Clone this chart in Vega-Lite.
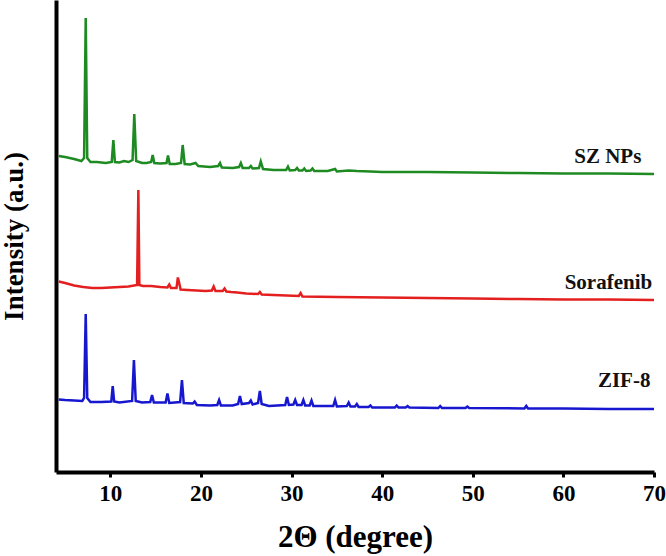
{
  "$schema": "https://vega.github.io/schema/vega-lite/v6.json",
  "width": 598,
  "height": 472,
  "autosize": {"type": "none"},
  "padding": {"left": 56, "top": 0, "right": 12, "bottom": 84},
  "background": "white",
  "config": {
    "view": {"stroke": null},
    "axis": {"grid": false}
  },
  "datasets": {
    "xrd": [
      {"s": "SZ NPs", "t": 4.3, "i": 316}, {"s": "SZ NPs", "t": 5.0, "i": 315}, {"s": "SZ NPs", "t": 6.0, "i": 313},
      {"s": "SZ NPs", "t": 6.8, "i": 311}, {"s": "SZ NPs", "t": 7.1, "i": 314}, {"s": "SZ NPs", "t": 7.28, "i": 454},
      {"s": "SZ NPs", "t": 7.45, "i": 314}, {"s": "SZ NPs", "t": 7.8, "i": 310}, {"s": "SZ NPs", "t": 8.5, "i": 310},
      {"s": "SZ NPs", "t": 9.5, "i": 309}, {"s": "SZ NPs", "t": 10.15, "i": 310}, {"s": "SZ NPs", "t": 10.33, "i": 332},
      {"s": "SZ NPs", "t": 10.5, "i": 310}, {"s": "SZ NPs", "t": 11.0, "i": 309.5}, {"s": "SZ NPs", "t": 11.5, "i": 311},
      {"s": "SZ NPs", "t": 12.0, "i": 310}, {"s": "SZ NPs", "t": 12.45, "i": 312}, {"s": "SZ NPs", "t": 12.64, "i": 358},
      {"s": "SZ NPs", "t": 12.85, "i": 311}, {"s": "SZ NPs", "t": 13.5, "i": 309}, {"s": "SZ NPs", "t": 14.0, "i": 309},
      {"s": "SZ NPs", "t": 14.5, "i": 310}, {"s": "SZ NPs", "t": 14.67, "i": 317}, {"s": "SZ NPs", "t": 14.85, "i": 309},
      {"s": "SZ NPs", "t": 15.5, "i": 308.5}, {"s": "SZ NPs", "t": 16.2, "i": 309}, {"s": "SZ NPs", "t": 16.36, "i": 316.5},
      {"s": "SZ NPs", "t": 16.55, "i": 308}, {"s": "SZ NPs", "t": 17.2, "i": 308}, {"s": "SZ NPs", "t": 17.8, "i": 309},
      {"s": "SZ NPs", "t": 17.98, "i": 327}, {"s": "SZ NPs", "t": 18.2, "i": 308}, {"s": "SZ NPs", "t": 18.8, "i": 307.5},
      {"s": "SZ NPs", "t": 19.4, "i": 309}, {"s": "SZ NPs", "t": 19.7, "i": 306}, {"s": "SZ NPs", "t": 21.0, "i": 305},
      {"s": "SZ NPs", "t": 21.9, "i": 306}, {"s": "SZ NPs", "t": 22.1, "i": 309}, {"s": "SZ NPs", "t": 22.3, "i": 304.5},
      {"s": "SZ NPs", "t": 23.5, "i": 304}, {"s": "SZ NPs", "t": 24.2, "i": 305}, {"s": "SZ NPs", "t": 24.4, "i": 309},
      {"s": "SZ NPs", "t": 24.6, "i": 304}, {"s": "SZ NPs", "t": 25.3, "i": 304}, {"s": "SZ NPs", "t": 25.5, "i": 306},
      {"s": "SZ NPs", "t": 25.7, "i": 303.5}, {"s": "SZ NPs", "t": 26.4, "i": 304}, {"s": "SZ NPs", "t": 26.6, "i": 310.5},
      {"s": "SZ NPs", "t": 26.85, "i": 303}, {"s": "SZ NPs", "t": 28.0, "i": 302}, {"s": "SZ NPs", "t": 29.4, "i": 302},
      {"s": "SZ NPs", "t": 29.6, "i": 305.5}, {"s": "SZ NPs", "t": 29.8, "i": 301.5}, {"s": "SZ NPs", "t": 30.4, "i": 302},
      {"s": "SZ NPs", "t": 30.6, "i": 304}, {"s": "SZ NPs", "t": 30.8, "i": 301.5}, {"s": "SZ NPs", "t": 31.2, "i": 301.5},
      {"s": "SZ NPs", "t": 31.4, "i": 303.5}, {"s": "SZ NPs", "t": 31.6, "i": 301}, {"s": "SZ NPs", "t": 32.1, "i": 301.5},
      {"s": "SZ NPs", "t": 32.3, "i": 303.5}, {"s": "SZ NPs", "t": 32.5, "i": 301}, {"s": "SZ NPs", "t": 34.0, "i": 301},
      {"s": "SZ NPs", "t": 34.8, "i": 303}, {"s": "SZ NPs", "t": 35.0, "i": 300.5}, {"s": "SZ NPs", "t": 36.3, "i": 301.5},
      {"s": "SZ NPs", "t": 37.2, "i": 301}, {"s": "SZ NPs", "t": 38.7, "i": 300.5}, {"s": "SZ NPs", "t": 40.0, "i": 300},
      {"s": "SZ NPs", "t": 45.0, "i": 300}, {"s": "SZ NPs", "t": 50.0, "i": 299.5}, {"s": "SZ NPs", "t": 55.0, "i": 299},
      {"s": "SZ NPs", "t": 60.0, "i": 298.5}, {"s": "SZ NPs", "t": 65.0, "i": 298.5}, {"s": "SZ NPs", "t": 70.0, "i": 298},

      {"s": "Sorafenib", "t": 4.3, "i": 190.5}, {"s": "Sorafenib", "t": 5.0, "i": 189}, {"s": "Sorafenib", "t": 6.0, "i": 186.5},
      {"s": "Sorafenib", "t": 7.0, "i": 185}, {"s": "Sorafenib", "t": 8.0, "i": 184}, {"s": "Sorafenib", "t": 9.0, "i": 184},
      {"s": "Sorafenib", "t": 10.0, "i": 184.5}, {"s": "Sorafenib", "t": 11.0, "i": 185}, {"s": "Sorafenib", "t": 12.0, "i": 185.5},
      {"s": "Sorafenib", "t": 12.95, "i": 187}, {"s": "Sorafenib", "t": 13.09, "i": 282}, {"s": "Sorafenib", "t": 13.2, "i": 187},
      {"s": "Sorafenib", "t": 13.6, "i": 186}, {"s": "Sorafenib", "t": 14.5, "i": 186}, {"s": "Sorafenib", "t": 15.5, "i": 185},
      {"s": "Sorafenib", "t": 16.3, "i": 184.5}, {"s": "Sorafenib", "t": 16.5, "i": 187.5}, {"s": "Sorafenib", "t": 16.7, "i": 184},
      {"s": "Sorafenib", "t": 17.3, "i": 184}, {"s": "Sorafenib", "t": 17.45, "i": 194.5}, {"s": "Sorafenib", "t": 17.6, "i": 189},
      {"s": "Sorafenib", "t": 17.75, "i": 182.5}, {"s": "Sorafenib", "t": 18.5, "i": 182}, {"s": "Sorafenib", "t": 19.5, "i": 181.5},
      {"s": "Sorafenib", "t": 20.5, "i": 181}, {"s": "Sorafenib", "t": 21.2, "i": 181.5}, {"s": "Sorafenib", "t": 21.4, "i": 185.5},
      {"s": "Sorafenib", "t": 21.6, "i": 181}, {"s": "Sorafenib", "t": 22.4, "i": 181}, {"s": "Sorafenib", "t": 22.6, "i": 183.5},
      {"s": "Sorafenib", "t": 22.8, "i": 180.5}, {"s": "Sorafenib", "t": 23.3, "i": 180}, {"s": "Sorafenib", "t": 24.0, "i": 179.5},
      {"s": "Sorafenib", "t": 25.0, "i": 178.5}, {"s": "Sorafenib", "t": 26.3, "i": 178}, {"s": "Sorafenib", "t": 26.5, "i": 180},
      {"s": "Sorafenib", "t": 26.7, "i": 177.5}, {"s": "Sorafenib", "t": 28.0, "i": 177}, {"s": "Sorafenib", "t": 30.8, "i": 176},
      {"s": "Sorafenib", "t": 31.0, "i": 179}, {"s": "Sorafenib", "t": 31.2, "i": 175.5}, {"s": "Sorafenib", "t": 35.0, "i": 175},
      {"s": "Sorafenib", "t": 40.0, "i": 174.5}, {"s": "Sorafenib", "t": 45.0, "i": 174}, {"s": "Sorafenib", "t": 50.0, "i": 173.5},
      {"s": "Sorafenib", "t": 55.0, "i": 173}, {"s": "Sorafenib", "t": 60.0, "i": 172.5}, {"s": "Sorafenib", "t": 65.0, "i": 172.5},
      {"s": "Sorafenib", "t": 70.0, "i": 172},

      {"s": "ZIF-8", "t": 4.3, "i": 72.5}, {"s": "ZIF-8", "t": 5.0, "i": 72}, {"s": "ZIF-8", "t": 6.0, "i": 71.5},
      {"s": "ZIF-8", "t": 6.9, "i": 71}, {"s": "ZIF-8", "t": 7.1, "i": 74}, {"s": "ZIF-8", "t": 7.28, "i": 158},
      {"s": "ZIF-8", "t": 7.45, "i": 74}, {"s": "ZIF-8", "t": 7.8, "i": 70}, {"s": "ZIF-8", "t": 9.0, "i": 70},
      {"s": "ZIF-8", "t": 10.1, "i": 70.5}, {"s": "ZIF-8", "t": 10.26, "i": 86}, {"s": "ZIF-8", "t": 10.42, "i": 70.5},
      {"s": "ZIF-8", "t": 11.0, "i": 69.5}, {"s": "ZIF-8", "t": 12.4, "i": 71}, {"s": "ZIF-8", "t": 12.6, "i": 112},
      {"s": "ZIF-8", "t": 12.8, "i": 71}, {"s": "ZIF-8", "t": 13.5, "i": 69.5}, {"s": "ZIF-8", "t": 14.4, "i": 70},
      {"s": "ZIF-8", "t": 14.6, "i": 77}, {"s": "ZIF-8", "t": 14.8, "i": 69.5}, {"s": "ZIF-8", "t": 16.1, "i": 69.5},
      {"s": "ZIF-8", "t": 16.3, "i": 78.5}, {"s": "ZIF-8", "t": 16.5, "i": 69}, {"s": "ZIF-8", "t": 17.7, "i": 70},
      {"s": "ZIF-8", "t": 17.9, "i": 92}, {"s": "ZIF-8", "t": 18.1, "i": 69}, {"s": "ZIF-8", "t": 19.1, "i": 68.5},
      {"s": "ZIF-8", "t": 19.3, "i": 70.5}, {"s": "ZIF-8", "t": 19.55, "i": 67}, {"s": "ZIF-8", "t": 21.0, "i": 66.5},
      {"s": "ZIF-8", "t": 21.8, "i": 67}, {"s": "ZIF-8", "t": 22.0, "i": 72}, {"s": "ZIF-8", "t": 22.2, "i": 66.5},
      {"s": "ZIF-8", "t": 23.5, "i": 66.5}, {"s": "ZIF-8", "t": 24.1, "i": 68}, {"s": "ZIF-8", "t": 24.3, "i": 76},
      {"s": "ZIF-8", "t": 24.5, "i": 68}, {"s": "ZIF-8", "t": 25.3, "i": 69}, {"s": "ZIF-8", "t": 25.5, "i": 71.5},
      {"s": "ZIF-8", "t": 25.7, "i": 67.5}, {"s": "ZIF-8", "t": 26.3, "i": 69}, {"s": "ZIF-8", "t": 26.5, "i": 81},
      {"s": "ZIF-8", "t": 26.7, "i": 68}, {"s": "ZIF-8", "t": 27.5, "i": 66}, {"s": "ZIF-8", "t": 29.3, "i": 67},
      {"s": "ZIF-8", "t": 29.5, "i": 75}, {"s": "ZIF-8", "t": 29.7, "i": 67}, {"s": "ZIF-8", "t": 30.2, "i": 67.5},
      {"s": "ZIF-8", "t": 30.4, "i": 72}, {"s": "ZIF-8", "t": 30.6, "i": 67}, {"s": "ZIF-8", "t": 31.1, "i": 67},
      {"s": "ZIF-8", "t": 31.3, "i": 72}, {"s": "ZIF-8", "t": 31.5, "i": 66.5}, {"s": "ZIF-8", "t": 32.0, "i": 66.5},
      {"s": "ZIF-8", "t": 32.2, "i": 71.5}, {"s": "ZIF-8", "t": 32.4, "i": 66}, {"s": "ZIF-8", "t": 34.6, "i": 66},
      {"s": "ZIF-8", "t": 34.8, "i": 72}, {"s": "ZIF-8", "t": 35.0, "i": 65.5}, {"s": "ZIF-8", "t": 36.1, "i": 66},
      {"s": "ZIF-8", "t": 36.3, "i": 69.5}, {"s": "ZIF-8", "t": 36.5, "i": 65.5}, {"s": "ZIF-8", "t": 37.0, "i": 65.5},
      {"s": "ZIF-8", "t": 37.2, "i": 68}, {"s": "ZIF-8", "t": 37.4, "i": 65}, {"s": "ZIF-8", "t": 38.5, "i": 65},
      {"s": "ZIF-8", "t": 38.7, "i": 66.5}, {"s": "ZIF-8", "t": 38.9, "i": 64.5}, {"s": "ZIF-8", "t": 41.4, "i": 64.5},
      {"s": "ZIF-8", "t": 41.6, "i": 66.5}, {"s": "ZIF-8", "t": 41.8, "i": 64.5}, {"s": "ZIF-8", "t": 42.6, "i": 64.5},
      {"s": "ZIF-8", "t": 42.8, "i": 66}, {"s": "ZIF-8", "t": 43.0, "i": 64.5}, {"s": "ZIF-8", "t": 46.2, "i": 64},
      {"s": "ZIF-8", "t": 46.4, "i": 66}, {"s": "ZIF-8", "t": 46.6, "i": 64}, {"s": "ZIF-8", "t": 49.2, "i": 64},
      {"s": "ZIF-8", "t": 49.4, "i": 65.5}, {"s": "ZIF-8", "t": 49.6, "i": 64}, {"s": "ZIF-8", "t": 55.7, "i": 63.5},
      {"s": "ZIF-8", "t": 55.9, "i": 66}, {"s": "ZIF-8", "t": 56.1, "i": 63.5}, {"s": "ZIF-8", "t": 60.0, "i": 63.5},
      {"s": "ZIF-8", "t": 65.0, "i": 63}, {"s": "ZIF-8", "t": 70.0, "i": 63}
    ],
    "labels": [
      {"s": "SZ NPs", "t": 68.6, "i": 315},
      {"s": "Sorafenib", "t": 69.8, "i": 189},
      {"s": "ZIF-8", "t": 69.6, "i": 91}
    ]
  },
  "encoding": {
    "x": {
      "field": "t",
      "type": "quantitative",
      "scale": {"domain": [4, 70], "nice": false, "zero": false},
      "axis": {
        "title": "2Θ (degree)",
        "values": [10, 20, 30, 40, 50, 60, 70],
        "labelFlush": false,
        "domainColor": "black",
        "domainWidth": 4,
        "tickColor": "black",
        "tickWidth": 3,
        "tickSize": 5,
        "labelFont": "Liberation Serif",
        "labelFontWeight": "bold",
        "labelFontSize": 23,
        "labelColor": "black",
        "labelPadding": 5,
        "titleFont": "Liberation Serif",
        "titleFontWeight": "bold",
        "titleFontSize": 31,
        "titleColor": "black",
        "titlePadding": 17
      }
    },
    "y": {
      "field": "i",
      "type": "quantitative",
      "scale": {"domain": [0, 472], "nice": false},
      "axis": {
        "title": "Intensity (a.u.)",
        "ticks": false,
        "labels": false,
        "domainColor": "black",
        "domainWidth": 4,
        "titleFont": "Liberation Serif",
        "titleFontWeight": "bold",
        "titleFontSize": 27,
        "titleColor": "black",
        "titlePadding": 28
      }
    },
    "color": {
      "field": "s",
      "type": "nominal",
      "scale": {"domain": ["SZ NPs", "Sorafenib", "ZIF-8"], "range": ["#1e8a22", "#e3201f", "#1717cf"]},
      "legend": null
    }
  },
  "layer": [
    {
      "data": {"name": "xrd"},
      "mark": {"type": "line", "strokeWidth": 2.5, "interpolate": "linear"}
    },
    {
      "data": {"name": "labels"},
      "mark": {
        "type": "text",
        "align": "right",
        "baseline": "middle",
        "font": "Liberation Serif",
        "fontWeight": "bold",
        "fontSize": 21,
        "color": "#111111"
      },
      "encoding": {
        "text": {"field": "s"},
        "color": {"value": "#111111"}
      }
    }
  ]
}
